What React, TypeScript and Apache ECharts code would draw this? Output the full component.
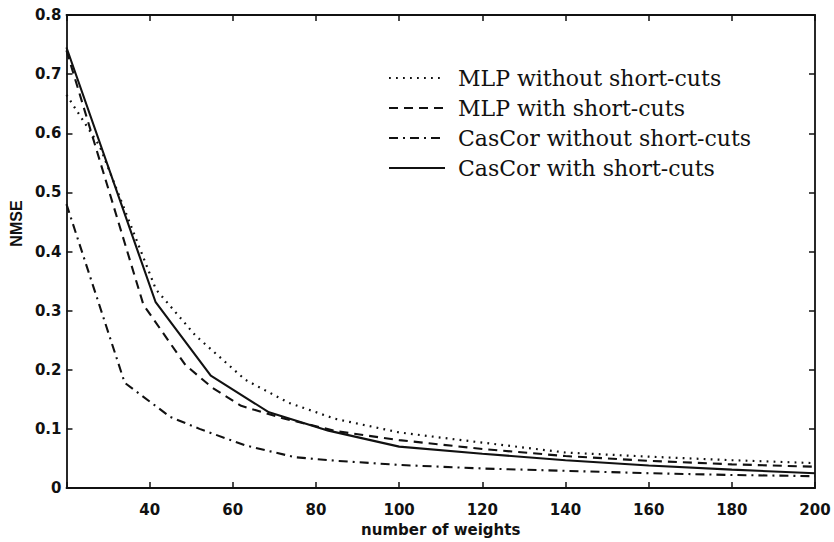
import React, { useEffect, useRef } from "react";
import * as echarts from "echarts";

const seriesNames = [
  "MLP without short-cuts",
  "MLP with short-cuts",
  "CasCor without short-cuts",
  "CasCor with short-cuts",
];

const mlpNoX = [20, 28, 41.5, 51, 63, 73.5, 84.6, 100, 112.6, 140, 160, 180, 200];
const mlpNoY = [0.665, 0.578, 0.336, 0.258, 0.183, 0.144, 0.117, 0.094, 0.083, 0.06, 0.053, 0.047, 0.042];

const mlpWithX = [20, 38.5, 48.6, 55, 62, 72, 85, 100, 120, 140, 160, 180, 200];
const mlpWithY = [0.74, 0.31, 0.208, 0.17, 0.139, 0.118, 0.096, 0.081, 0.066, 0.054, 0.046, 0.04, 0.036];

const casNoX = [20, 34, 45, 52, 63, 75, 85, 100, 120, 140, 160, 180, 200];
const casNoY = [0.48, 0.178, 0.12, 0.1, 0.072, 0.052, 0.046, 0.039, 0.033, 0.029, 0.025, 0.022, 0.02];

const casWithX = [20, 41.4, 54.7, 68.7, 83, 100, 120, 140, 160, 180, 200];
const casWithY = [0.745, 0.315, 0.19, 0.128, 0.097, 0.07, 0.058, 0.047, 0.038, 0.031, 0.025];

const xTicks = [20, 40, 60, 80, 100, 120, 140, 160, 180, 200];
const yTicks = [0, 0.1, 0.2, 0.3, 0.4, 0.5, 0.6, 0.7, 0.8];

const pair = (xs: number[], ys: number[]) => xs.map((x, i) => [x, ys[i]]);

export default function App() {
  const ref = useRef<HTMLDivElement>(null);
  useEffect(() => {
    if (!ref.current) return;
    const chart = echarts.init(ref.current, undefined, { renderer: "svg" });
    const ink = "#111";
    const axisLine = { show: true, onZero: false, lineStyle: { color: ink, width: 1.8 } };
    const axisTick = { show: true, inside: true, length: 6, lineStyle: { color: ink, width: 1.5 } };
    const tickFont = { fontFamily: "DejaVu Sans", fontWeight: "bold" as const, fontSize: 15, color: ink };
    const lineSeries = (name: string, data: number[][], type: any, width = 2.1) => ({
      name,
      type: "line",
      data,
      symbol: "none",
      showSymbol: false,
      smooth: false,
      lineStyle: { color: ink, width, type },
      itemStyle: { color: ink },
    });
    chart.setOption({
      animation: false,
      backgroundColor: "#fff",
      grid: { left: 65, right: 19, top: 15, bottom: 47, containLabel: false },
      legend: {
        orient: "vertical",
        left: 383,
        top: 62,
        itemWidth: 56,
        itemHeight: 20,
        itemGap: 8,
        data: seriesNames,
        itemStyle: { opacity: 0, borderWidth: 0 },
        textStyle: {
          fontFamily: "DejaVu Serif",
          fontSize: 22,
          lineHeight: 20,
          color: ink,
          padding: [0, 0, 0, 8],
        },
      },
      xAxis: [
        {
          type: "value",
          min: xTicks[0],
          max: xTicks[xTicks.length - 1],
          interval: 20,
          position: "bottom",
          name: "number of weights",
          nameLocation: "middle",
          nameGap: 34,
          nameTextStyle: { fontFamily: "DejaVu Sans", fontWeight: "bold", fontSize: 15, color: ink },
          axisLine,
          axisTick,
          splitLine: { show: false },
          axisLabel: {
            ...tickFont,
            margin: 14,
            formatter: (v: number) => (v === xTicks[0] ? "" : String(v)),
          },
        },
        {
          type: "value",
          min: xTicks[0],
          max: xTicks[xTicks.length - 1],
          interval: 20,
          position: "top",
          axisLine,
          axisTick,
          splitLine: { show: false },
          axisLabel: { show: false },
        },
      ],
      yAxis: [
        {
          type: "value",
          min: yTicks[0],
          max: yTicks[yTicks.length - 1],
          interval: 0.1,
          position: "left",
          name: "NMSE",
          nameLocation: "middle",
          nameGap: 40,
          nameRotate: 90,
          nameTextStyle: {
            fontFamily: "Liberation Sans",
            fontWeight: "bold",
            fontSize: 16,
            color: ink,
            padding: [0, 0, 0, 56],
          },
          axisLine,
          axisTick,
          splitLine: { show: false },
          axisLabel: {
            ...tickFont,
            margin: 5,
            formatter: (v: number) => (v === 0 ? "0" : v.toFixed(1)),
          },
        },
        {
          type: "value",
          min: yTicks[0],
          max: yTicks[yTicks.length - 1],
          interval: 0.1,
          position: "right",
          axisLine,
          axisTick,
          splitLine: { show: false },
          axisLabel: { show: false },
        },
      ],
      series: [
        lineSeries(seriesNames[0], pair(mlpNoX, mlpNoY), [1.8, 5.2], 2.2),
        lineSeries(seriesNames[1], pair(mlpWithX, mlpWithY), [9, 6]),
        lineSeries(seriesNames[2], pair(casNoX, casNoY), [9, 5, 2, 5]),
        lineSeries(seriesNames[3], pair(casWithX, casWithY), "solid"),
      ],
    });
    return () => chart.dispose();
  }, []);
  return (
    <div
      ref={ref}
      style={{ position: "fixed", left: 0, top: 0, width: 834, height: 542, background: "#fff" }}
    />
  );
}
